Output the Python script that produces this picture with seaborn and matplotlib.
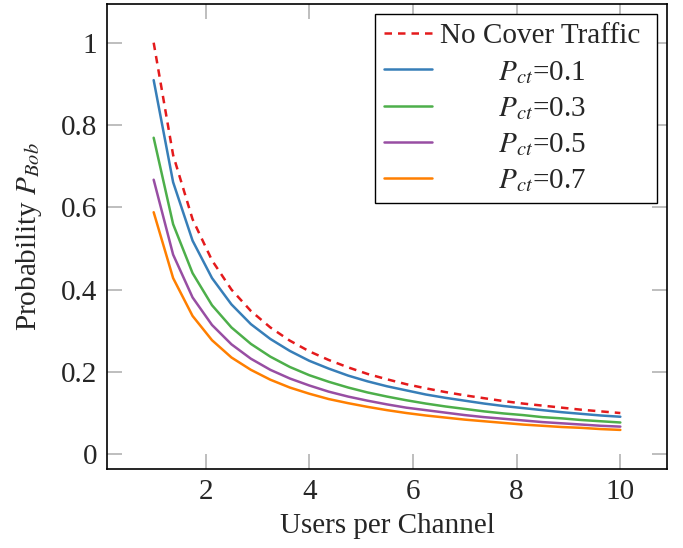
import numpy as np
import pandas as pd
import seaborn as sns
import matplotlib
matplotlib.use("Agg")
import matplotlib.pyplot as plt
from matplotlib.ticker import FuncFormatter

# users per channel (sample points)
users = [1.0, 1.375, 1.75, 2.125, 2.5, 2.875, 3.25, 3.625, 4.0, 4.375, 4.75, 5.125,
         5.5, 5.875, 6.25, 6.625, 7.0, 7.375, 7.75, 8.125, 8.5, 8.875, 9.25, 9.625, 10.0]

no_cover = [1.000, 0.727, 0.571, 0.471, 0.400, 0.348, 0.308, 0.276, 0.250, 0.229, 0.211, 0.195,
            0.182, 0.170, 0.160, 0.151, 0.143, 0.136, 0.129, 0.123, 0.118, 0.113, 0.108, 0.104, 0.100]
pct_01 = [0.909, 0.661, 0.519, 0.428, 0.364, 0.316, 0.280, 0.251, 0.227, 0.208, 0.191, 0.177,
          0.165, 0.155, 0.145, 0.137, 0.130, 0.123, 0.117, 0.112, 0.107, 0.102, 0.098, 0.094, 0.091]
pct_03 = [0.769, 0.559, 0.440, 0.362, 0.308, 0.268, 0.237, 0.212, 0.192, 0.176, 0.162, 0.150,
          0.140, 0.131, 0.123, 0.116, 0.110, 0.104, 0.099, 0.095, 0.090, 0.087, 0.083, 0.080, 0.077]
pct_05 = [0.667, 0.485, 0.381, 0.314, 0.267, 0.232, 0.205, 0.184, 0.167, 0.152, 0.140, 0.130,
          0.121, 0.113, 0.107, 0.101, 0.095, 0.090, 0.086, 0.082, 0.078, 0.075, 0.072, 0.069, 0.067]
pct_07 = [0.588, 0.428, 0.336, 0.277, 0.235, 0.205, 0.181, 0.162, 0.147, 0.134, 0.124, 0.115,
          0.107, 0.100, 0.094, 0.089, 0.084, 0.080, 0.076, 0.072, 0.069, 0.066, 0.064, 0.061, 0.059]

pad = "        "
series_names = ["No Cover Traffic ",
                pad + "$P_{ct}$=0.1",
                pad + "$P_{ct}$=0.3",
                pad + "$P_{ct}$=0.5",
                pad + "$P_{ct}$=0.7"]
series_vals = [no_cover, pct_01, pct_03, pct_05, pct_07]

df = pd.concat([pd.DataFrame({"users": users, "prob": v, "series": n})
                for n, v in zip(series_names, series_vals)], ignore_index=True)

sns.set_theme(style="white")
plt.rcParams["font.family"] = ["Liberation Serif", "DejaVu Serif"]
plt.rcParams["mathtext.fontset"] = "stix"

FS = 21
colors = ["#e41a1c", "#377eb8", "#4daf4a", "#984ea3", "#ff7f00"]
dashes = [(3, 2.4), "", "", "", ""]

fig = plt.figure(figsize=(6.83, 5.48), dpi=100)
ax = fig.add_axes([107 / 683, 1 - 469 / 548, 560 / 683, 465 / 548])

sns.lineplot(data=df, x="users", y="prob", hue="series", style="series",
             palette=colors, dashes=dashes, linewidth=1.8, ax=ax)

ax.set_xlim(0.1, 10.9)
ax.set_ylim(-0.036, 1.094)
ax.set_xticks([2, 4, 6, 8, 10])
ax.set_yticks([0, 0.2, 0.4, 0.6, 0.8, 1.0])
ax.yaxis.set_major_formatter(FuncFormatter(lambda v, p: f"{v:g}"))
ax.tick_params(direction="in", top=True, right=True, bottom=True, left=True,
               length=11, width=1.2, color="0.7", labelsize=FS, pad=7)
for s in ax.spines.values():
    s.set_color("black")
    s.set_linewidth(1.2)

ax.set_xlabel("Users per Channel", fontsize=FS, labelpad=6)
ax.set_ylabel("Probability $P_{Bob}$", fontsize=FS, labelpad=12)

leg = ax.legend(loc="upper right", fontsize=FS, frameon=True, fancybox=False,
                edgecolor="black", framealpha=1, handlelength=1.65,
                borderaxespad=0.35, labelspacing=0.32, handletextpad=0.3,
                borderpad=0.3)
leg.get_frame().set_linewidth(1.0)

fig.savefig("out.png", dpi=100)
